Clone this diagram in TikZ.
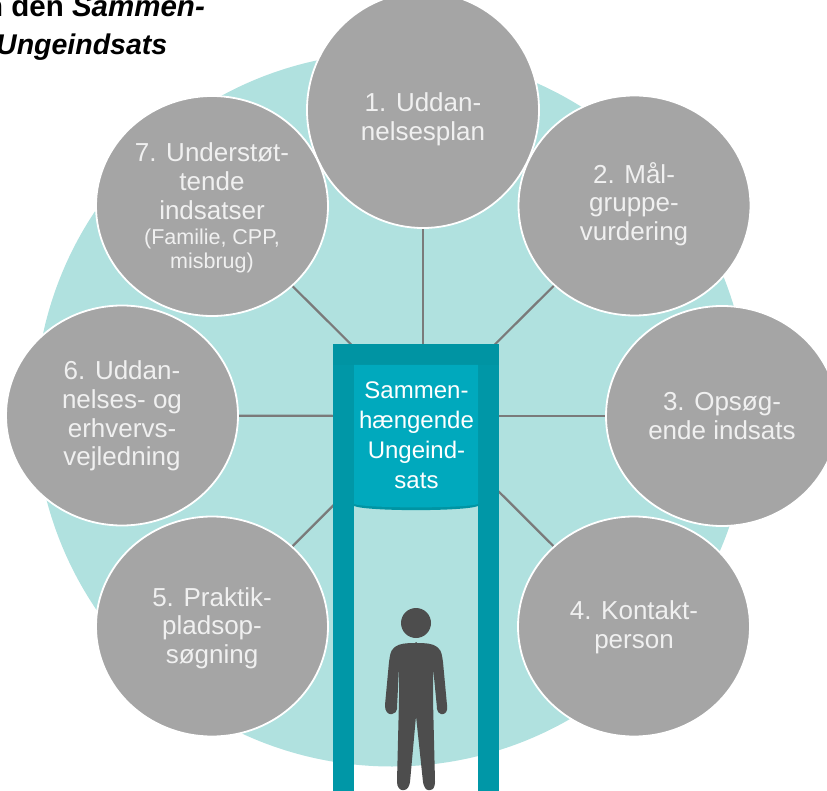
\documentclass[tikz,border=0pt]{standalone}
\usepackage{fontspec}
\setmainfont{Liberation Sans}
\usetikzlibrary{backgrounds,shapes.geometric}
\definecolor{tealbg}{HTML}{B0E1DF}
\definecolor{frameteal}{HTML}{0097A7}
\definecolor{frametop}{HTML}{0094A3}
\definecolor{panelteal}{HTML}{00A9BD}
\definecolor{discgrey}{HTML}{A5A5A5}
\definecolor{spoke}{HTML}{7A7A7A}
\definecolor{persongrey}{HTML}{4D4D4D}
\tikzset{
  x=1pt,y=-1pt,
  disc/.style={ellipse,draw=white,line width=1.8pt,fill=discgrey,inner sep=0pt,minimum width=232pt,minimum height=220pt},
  disclabel/.style={text=white!94!black,align=center,inner sep=0pt,font=\fontsize{26}{28.7}\selectfont},
  spokeline/.style={draw=spoke,line width=2.2pt},
  titletext/.style={anchor=base west,inner sep=0pt,font=\fontsize{28.5}{32}\selectfont\bfseries,text=black},
}
\begin{document}
\begin{tikzpicture}
\path[use as bounding box,clip] (0,0) rectangle (827,791);
\node[disc,minimum height=236pt] (c1) at (423,110) {};
\node[disc] (c2) at (634.5,205.5) {};
\node[disc] (c3) at (722,416) {};
\node[disc] (c4) at (634,626.5) {};
\node[disc] (c5) at (212,626.5) {};
\node[disc] (c6) at (122,415.5) {};
\node[disc] (c7) at (212,206) {};
\node[disclabel] (l1) at (423,119) {1. Uddan-\\nelsesplan};
\node[disclabel] (l2) at (634,204) {2. Mål-\\gruppe-\\vurdering};
\node[disclabel] (l3) at (722,416) {3. Opsøg-\\ende indsats};
\node[disclabel] (l4) at (634,627) {4. Kontakt-\\person};
\node[disclabel] (l5) at (212,628) {5. Praktik-\\pladsop-\\søgning};
\node[disclabel] (l6) at (122,416) {6. Uddan-\\nelses- og\\erhvervs-\\vejledning};
\node[disclabel] (l7) at (212,208) {7. Understøt-\\tende\\indsatser\\[-3pt]{\fontsize{21.5}{24}\selectfont (Familie, CPP,}\\[-5pt]{\fontsize{21.5}{24}\selectfont misbrug)}};
\coordinate (hub) at (423,416);
\begin{pgfonlayer}{background}
\fill[tealbg] (392,409.5) circle[radius=357];
\foreach \c in {c1,c2,c3,c4,c5,c6,c7} \draw[spokeline] (\c.center) -- (hub);
\end{pgfonlayer}
% gate frame
\fill[frameteal] (333,344) rectangle (354,791);
\fill[frameteal] (478,344) rectangle (499,791);
\fill[frametop] (333,344) rectangle (499,365);
\fill[frametop] (354,365) -- (478,365) -- (478,506) .. controls (465,511.5) and (367,511.5) .. (354,506) -- cycle;
\fill[panelteal] (354,365) -- (478,365) -- (478,504) .. controls (465,508.5) and (367,508.5) .. (354,504) -- cycle;
\node[align=center,text=white,inner sep=0pt,font=\fontsize{24}{30}\selectfont] (gate) at (416.5,435.5) {Sammen-\\hængende\\Ungeind-\\sats};
% person
\fill[persongrey] (416,623) circle[radius=15];
\fill[persongrey,rounded corners=1pt]
  (416,643) .. controls (405,643) and (399,644) .. (395,647)
  .. controls (390,651) and (390,656) .. (389,662)
  -- (385,705) .. controls (385,711) and (388,714) .. (391,714)
  .. controls (395,714) and (397,711) .. (397,708)
  -- (399,667) -- (399,700) -- (397,781)
  .. controls (397,787) and (400,790) .. (403,790)
  .. controls (407,790) and (409,787) .. (410,782)
  -- (416,716) -- (423,782)
  .. controls (424,787) and (426,790) .. (429,790)
  .. controls (433,790) and (435,787) .. (435,781)
  -- (433,700) -- (433,667) -- (437,708)
  .. controls (437,711) and (439,714) .. (442,714)
  .. controls (445,714) and (448,711) .. (447,705)
  -- (443,662) .. controls (442,656) and (442,651) .. (437,647)
  .. controls (433,644) and (427,643) .. (416,643) -- cycle;
% title
\node[titletext,font=\fontsize{29.5}{32}\selectfont\bfseries] (t1) at (-15,17) {n den \textit{Sammen-}};
\node[titletext] (t2) at (-4,55) {\textit{Ungeindsats}};
\end{tikzpicture}
\end{document}
